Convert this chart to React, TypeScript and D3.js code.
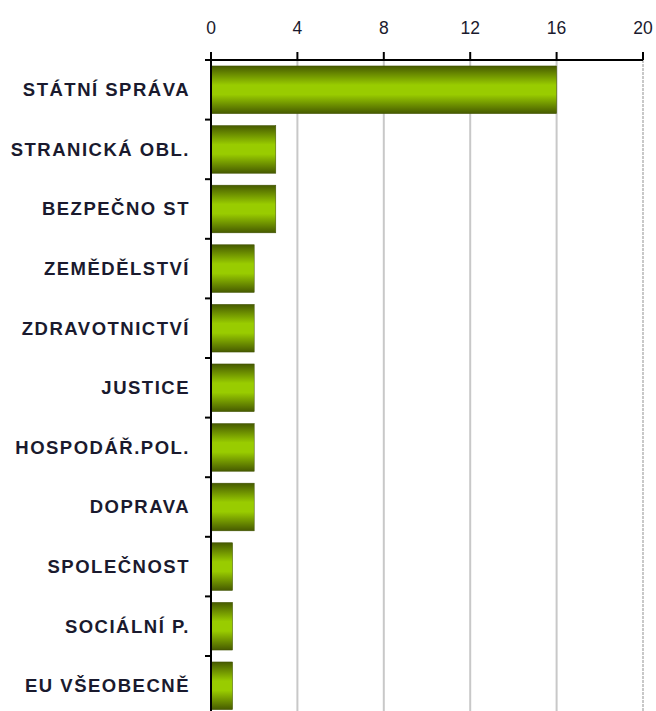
import { useEffect, useRef } from 'react';
import { select, scaleLinear, scaleBand } from 'd3';

const categories = [
  'STÁTNÍ SPRÁVA',
  'STRANICKÁ OBL.',
  'BEZPEČNO ST',
  'ZEMĚDĚLSTVÍ',
  'ZDRAVOTNICTVÍ',
  'JUSTICE',
  'HOSPODÁŘ.POL.',
  'DOPRAVA',
  'SPOLEČNOST',
  'SOCIÁLNÍ P.',
  'EU VŠEOBECNĚ',
];
const values = [16, 3, 3, 2, 2, 2, 2, 2, 1, 1, 1];
const xTicks = [0, 4, 8, 12, 16, 20];

export default function App() {
  const svgRef = useRef<SVGSVGElement>(null);

  useEffect(() => {
    if (!svgRef.current) return;
    const svg = select(svgRef.current);
    svg.selectAll('*').remove();

    const left = 211;
    const right = 643;
    const top = 60;
    const band = 59.6;

    const x = scaleLinear().domain([0, 20]).range([left, right]);
    const y = scaleBand()
      .domain(categories)
      .range([top, top + band * categories.length])
      .paddingInner(0.2)
      .paddingOuter(0.1);

    const defs = svg.append('defs');
    const grad = defs
      .append('linearGradient')
      .attr('id', 'barGrad')
      .attr('x1', 0)
      .attr('y1', 0)
      .attr('x2', 0)
      .attr('y2', 1);
    grad.append('stop').attr('offset', '0%').attr('stop-color', '#465a00');
    grad.append('stop').attr('offset', '40%').attr('stop-color', '#99cc00');
    grad.append('stop').attr('offset', '60%').attr('stop-color', '#99cc00');
    grad.append('stop').attr('offset', '100%').attr('stop-color', '#465a00');

    // grid lines
    svg
      .append('g')
      .selectAll('line')
      .data(xTicks.slice(1, -1))
      .enter()
      .append('line')
      .attr('x1', (d) => x(d))
      .attr('x2', (d) => x(d))
      .attr('y1', top)
      .attr('y2', 711)
      .attr('stroke', '#c8c8c8')
      .attr('stroke-width', 2);

    // right border dashed
    svg
      .append('line')
      .attr('x1', x(20))
      .attr('x2', x(20))
      .attr('y1', top)
      .attr('y2', 711)
      .attr('stroke', '#c8c8c8')
      .attr('stroke-width', 2)
      .attr('stroke-dasharray', '3,1');

    // bars
    svg
      .append('g')
      .selectAll('rect')
      .data(values)
      .enter()
      .append('rect')
      .attr('x', x(0))
      .attr('y', (_, i) => y(categories[i]) || 0)
      .attr('width', (d) => x(d) - x(0))
      .attr('height', y.bandwidth())
      .attr('fill', 'url(#barGrad)')
      .attr('stroke', '#3f5000')
      .attr('stroke-width', 0.5);

    // top axis
    svg
      .append('line')
      .attr('x1', left - 6)
      .attr('x2', right)
      .attr('y1', top)
      .attr('y2', top)
      .attr('stroke', '#000')
      .attr('stroke-width', 2);
    svg
      .append('g')
      .selectAll('line')
      .data(xTicks)
      .enter()
      .append('line')
      .attr('x1', (d) => x(d))
      .attr('x2', (d) => x(d))
      .attr('y1', top - 8)
      .attr('y2', top)
      .attr('stroke', '#000')
      .attr('stroke-width', 2);
    svg
      .append('g')
      .selectAll('text')
      .data(xTicks)
      .enter()
      .append('text')
      .attr('x', (d) => x(d))
      .attr('y', 34)
      .attr('text-anchor', 'middle')
      .attr('font-family', 'Liberation Sans, Arial, sans-serif')
      .attr('font-size', 17.5)
      .attr('fill', '#1a1a2e')
      .text((d) => d);

    // left axis
    svg
      .append('line')
      .attr('x1', left)
      .attr('x2', left)
      .attr('y1', top - 2)
      .attr('y2', 711)
      .attr('stroke', '#000')
      .attr('stroke-width', 2);
    svg
      .append('g')
      .selectAll('line')
      .data(categories.slice(1))
      .enter()
      .append('line')
      .attr('x1', left - 6)
      .attr('x2', left)
      .attr('y1', (_, i) => top + band * (i + 1))
      .attr('y2', (_, i) => top + band * (i + 1))
      .attr('stroke', '#000')
      .attr('stroke-width', 2);

    svg
      .append('g')
      .selectAll('text')
      .data(categories)
      .enter()
      .append('text')
      .attr('x', 190)
      .attr('y', (d) => (y(d) || 0) + y.bandwidth() / 2)
      .attr('dy', '0.35em')
      .attr('text-anchor', 'end')
      .attr('font-family', 'Liberation Sans, Arial, sans-serif')
      .attr('font-weight', 'bold')
      .attr('font-size', 18.5)
      .attr('letter-spacing', 1.5)
      .attr('fill', '#1a1a2e')
      .text((d) => d);
  }, []);

  return (
    <div style={{ position: 'absolute', left: 0, top: 0 }}>
      <svg ref={svgRef} width={656} height={711} style={{ display: 'block', background: '#fff' }} />
    </div>
  );
}
